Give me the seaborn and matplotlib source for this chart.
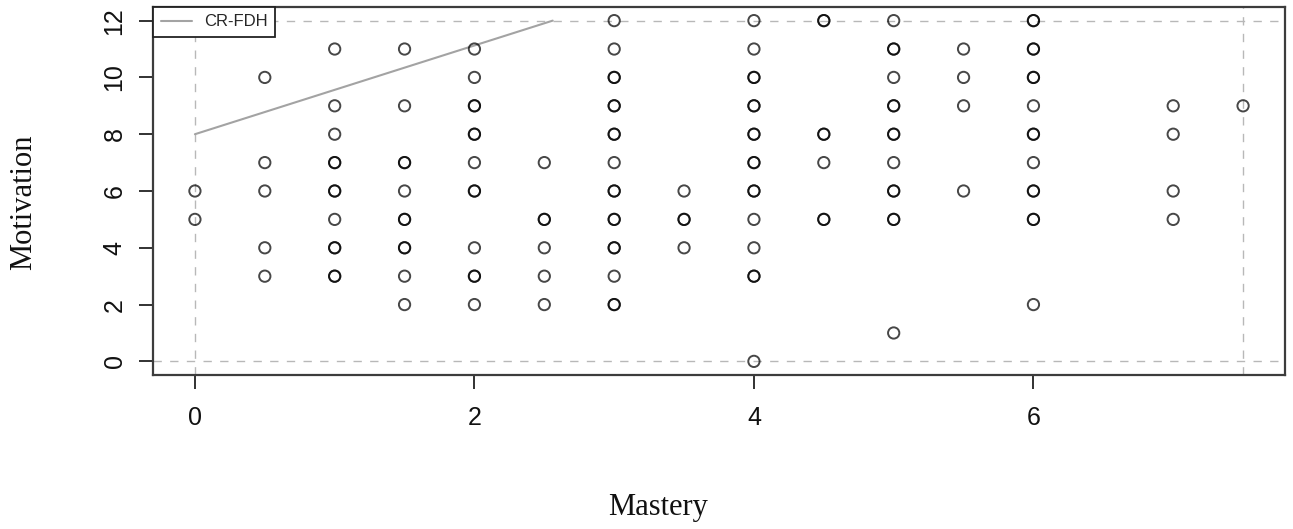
import matplotlib
matplotlib.use("Agg")
import matplotlib.pyplot as plt
import seaborn as sns
import pandas as pd

# Observed scores, one entry per respondent (repeated pairs overlap on the plot)
mastery_levels = [0, 0.5, 1, 1.5, 2, 2.5, 3, 3.5, 4, 4.5, 5, 5.5, 6, 7, 7.5]
motivation_by_level = [
    [6, 5],
    [10, 7, 6, 4, 3],
    [11, 9, 8, 7, 7, 6, 6, 5, 4, 4, 3, 3],
    [11, 9, 7, 7, 6, 5, 5, 4, 4, 3, 2],
    [11, 10, 9, 9, 8, 8, 7, 6, 6, 4, 3, 3, 2],
    [7, 5, 5, 4, 3, 2],
    [12, 11, 10, 10, 9, 9, 8, 8, 7, 6, 6, 5, 5, 4, 4, 3, 2, 2],
    [6, 5, 5, 4],
    [12, 11, 10, 10, 9, 9, 8, 8, 7, 7, 6, 6, 5, 4, 3, 3, 0],
    [12, 12, 8, 8, 7, 5, 5],
    [12, 11, 11, 10, 9, 9, 8, 8, 7, 6, 6, 5, 5, 1],
    [11, 10, 9, 6],
    [12, 12, 11, 11, 10, 10, 9, 8, 8, 7, 6, 6, 5, 5, 2],
    [9, 8, 6, 5],
    [9],
]

# CR-FDH ceiling line endpoints
ceiling_x = [0, 2.56]
ceiling_y = [8, 12]

x_ticks = [0, 2, 4, 6]
y_ticks = [0, 2, 4, 6, 8, 10, 12]

rows = [(m, v) for m, vals in zip(mastery_levels, motivation_by_level) for v in vals]
df = pd.DataFrame(rows, columns=["Mastery", "Motivation"])

sns.set_theme(style="white")
plt.rcParams["font.family"] = ["Liberation Sans", "DejaVu Sans"]

fig = plt.figure(figsize=(12.93, 5.29), dpi=100)
ax = fig.add_axes([153 / 1293, 1 - 375 / 529, 1132 / 1293, 368 / 529])

# scope lines at the data range
xmin, xmax = df["Mastery"].min(), df["Mastery"].max()
ymin, ymax = df["Motivation"].min(), df["Motivation"].max()
dash_kw = dict(color="#b8b8b8", lw=1.0, linestyle=(0, (6, 6)), zorder=1)
ax.axvline(xmin, **dash_kw)
ax.axvline(xmax, **dash_kw)
ax.axhline(ymin, **dash_kw)
ax.axhline(ymax, **dash_kw)

sns.scatterplot(data=df, x="Mastery", y="Motivation", ax=ax, marker="o",
                s=66, facecolors="none", edgecolor="black", linewidth=1.4,
                alpha=0.72, zorder=3)

sns.lineplot(x=ceiling_x, y=ceiling_y, ax=ax, color="#a3a3a3", lw=1.5,
             sort=False, label="CR-FDH", zorder=2)

ax.set_xlim(-0.30, 7.80)
ax.set_ylim(-0.48, 12.48)
ax.set_xticks(x_ticks)
ax.set_yticks(y_ticks)
ax.set_xticklabels([str(t) for t in x_ticks])
ax.set_yticklabels([str(t) for t in y_ticks], rotation=90, va="center")

ax.tick_params(axis="both", which="both", direction="out", length=10,
               width=1.3, color="#222222", labelsize=18, labelcolor="#111111")
ax.tick_params(axis="x", pad=12, bottom=True)
ax.tick_params(axis="y", pad=9, left=True)

for sp in ax.spines.values():
    sp.set_visible(True)
    sp.set_color("#3c3c3c")
    sp.set_linewidth(1.6)

serif = ["Liberation Serif", "DejaVu Serif"]
ax.set_xlabel("Mastery", fontsize=22, family=serif, color="#111111")
ax.set_ylabel("Motivation", fontsize=22, family=serif, color="#111111")
ax.xaxis.set_label_coords((658 - 153) / 1132, -(515 - 375) / 368)
ax.xaxis.label.set_verticalalignment("baseline")
ax.yaxis.label.set_verticalalignment("center")
ax.yaxis.set_label_coords((24 - 153) / 1132, (375 - 202) / 368)

leg = ax.legend(loc="upper left", borderaxespad=0, frameon=True, fancybox=False,
                fontsize=12, handlelength=1.9, handletextpad=0.7,
                borderpad=0.45, framealpha=1)
leg.get_frame().set_edgecolor("#222222")
leg.get_frame().set_linewidth(1.3)

fig.savefig("out.png", dpi=100)
